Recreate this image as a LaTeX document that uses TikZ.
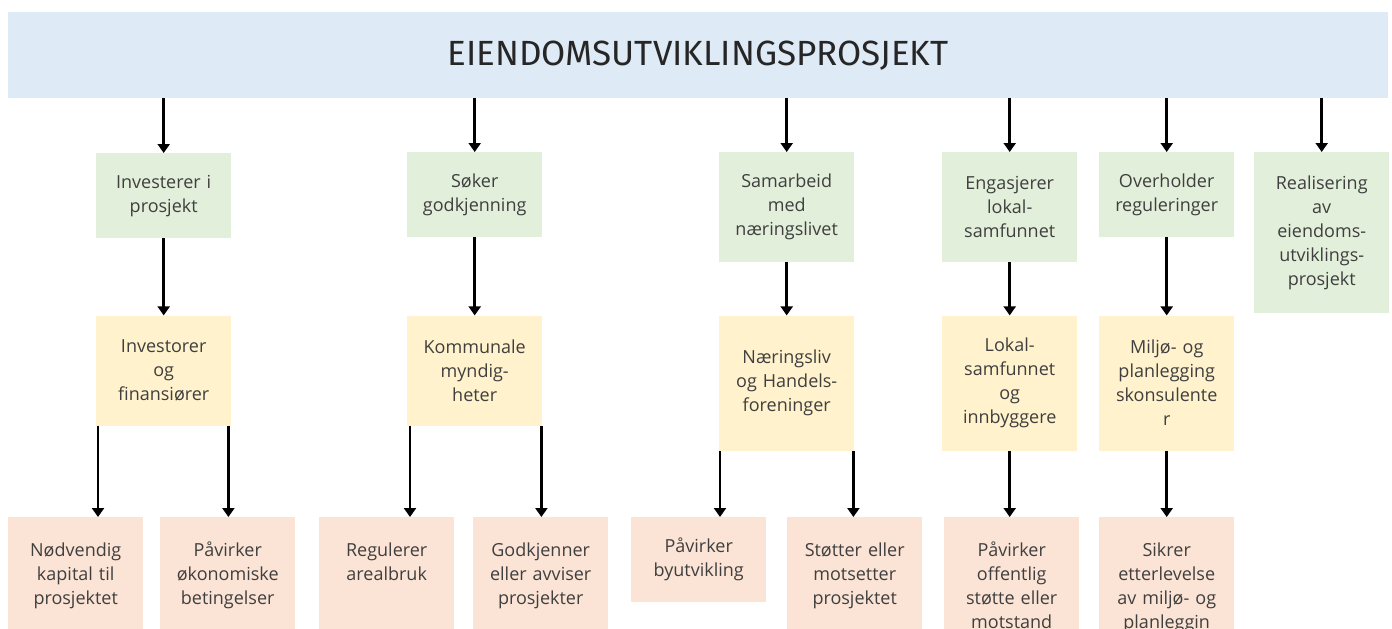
\documentclass[tikz,border=0pt]{standalone}
\usepackage{fontspec}
\setmainfont{Open Sans}
\newfontfamily\titlefont{Fira Sans}
\usetikzlibrary{arrows.meta, positioning}

\definecolor{titleblue}{HTML}{DEEAF6}
\definecolor{actiongreen}{HTML}{E2EFDA}
\definecolor{actoryellow}{HTML}{FFF2CC}
\definecolor{effectpink}{HTML}{FBE4D5}
\definecolor{textgray}{HTML}{3F3F3F}

\begin{document}
\begin{tikzpicture}[x=1pt, y=1pt, >={Triangle[width=12pt,length=9pt]},
    box/.style={inner xsep=5pt, inner ysep=0pt, text width=125pt, align=center, text=textgray, font=\fontsize{18}{24}\selectfont, anchor=north west},
    greenbox/.style={box, fill=actiongreen},
    yellowbox/.style={box, fill=actoryellow},
    pinkbox/.style={box, fill=effectpink},
    pinktop/.style={pinkbox, text height=39pt, text depth=140pt},
    link/.style={->, line width=2.6pt}]
    \useasboundingbox (0,0) rectangle (1392,-629);
    \clip (0,0) rectangle (1392,-629);

    % Project
    \node[fill=titleblue, anchor=north west, minimum width=1380pt, minimum height=86pt, inner sep=0pt, text=black!85, font=\titlefont\fontsize{35}{40}\selectfont] (title) at (8,-12) {EIENDOMSUTVIKLINGSPROSJEKT};

    % Actions
    \node[greenbox, minimum height=85pt] (g1) at (96,-153) {Investerer i\\prosjekt};
    \node[greenbox, minimum height=85pt] (g2) at (407,-152) {Søker\\godkjenning};
    \node[greenbox, minimum height=110pt] (g3) at (719,-152) {Samarbeid\\med\\næringslivet};
    \node[greenbox, minimum height=110pt] (g4) at (942,-152) {Engasjerer\\lokal-\\samfunnet};
    \node[greenbox, minimum height=85pt] (g5) at (1099,-152) {Overholder\\reguleringer};
    \node[greenbox, minimum height=161pt] (g6) at (1254,-152) {Realisering\\av\\eiendoms-\\utviklings-\\prosjekt};

    % Actors
    \node[yellowbox, minimum height=110pt, below=77pt of g1] (o1) {Investorer\\og\\finansiører};
    \node[yellowbox, minimum height=110pt, below=78pt of g2] (o2) {Kommunale\\myndig-\\heter};
    \node[yellowbox, minimum height=135pt, below=53pt of g3] (o3) {Næringsliv\\og Handels-\\foreninger};
    \node[yellowbox, minimum height=135pt, below=53pt of g4] (o4) {Lokal-\\samfunnet\\og\\innbyggere};
    \node[yellowbox, minimum height=135pt, below=78pt of g5] (o5) {Miljø- og\\planlegging\\skonsulente\\r};

    % Effects
    \node[pinktop] (p1) at (8,-517) {Nødvendig\\kapital til\\prosjektet};
    \node[pinktop] (p2) at (160,-517) {Påvirker\\økonomiske\\betingelser};
    \node[pinktop] (p3) at (319,-517) {Regulerer\\arealbruk};
    \node[pinktop] (p4) at (473,-517) {Godkjenner\\eller avviser\\prosjekter};
    \node[pinkbox, minimum height=85pt] (p5) at (631,-517) {Påvirker\\byutvikling};
    \node[pinktop] (p6) at (787,-517) {Støtter eller\\motsetter\\prosjektet};
    \node[pinktop] (p7) at (944,-517) {Påvirker\\offentlig\\støtte eller\\motstand};
    \node[pinktop] (p8) at (1099,-517) {Sikrer\\etterlevelse\\av miljø- og\\planleggin\\g};

    % Arrows
    \foreach \g in {g1,g2,g3,g4,g5,g6}
        \draw[link] (title.south -| \g.north) -- (\g.north);
    \foreach \g/\o in {g1/o1,g2/o2,g3/o3,g4/o4,g5/o5}
        \draw[link] (\g.south) -- (\o.north);
    \foreach \o/\p/\side/\dx in {o1/p1/west/2, o1/p2/east/-3, o2/p3/west/3, o2/p4/east/-1, o3/p5/west/1, o3/p6/east/-1} {
        \coordinate (s) at ([xshift=\dx pt]\o.south \side);
        \draw[link] (s) -- (s |- \p.north);
    }
    \draw[link] (o4.south) -- (o4.south |- p7.north);
    \draw[link] (o5.south) -- (o5.south |- p8.north);
\end{tikzpicture}
\end{document}
